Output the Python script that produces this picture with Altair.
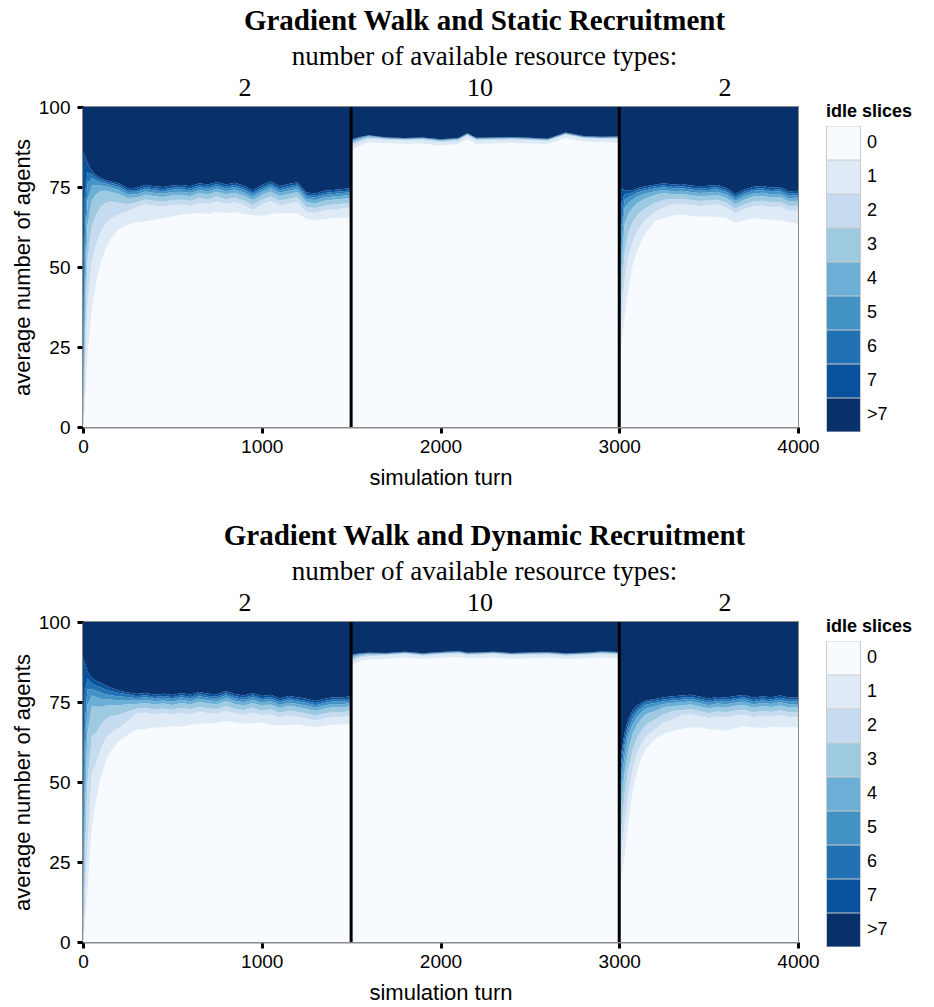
import altair as alt
import pandas as pd

# Simulation turns at which the agent distribution was sampled
TURNS = [
    0, 10, 25, 50, 75, 100, 125, 150, 200, 250, 300, 350, 400, 450, 500, 550,
    600, 650, 700, 750, 800, 850, 900, 950, 1000, 1050, 1100, 1150, 1200, 1250,
    1300, 1350, 1400, 1450, 1495,
    1505, 1550, 1600, 1700, 1800, 1900, 2000, 2100, 2150, 2200, 2300, 2400,
    2500, 2600, 2700, 2800, 2900, 2995,
    3005, 3015, 3030, 3050, 3075, 3100, 3125, 3150, 3200, 3250, 3300, 3350,
    3400, 3450, 3500, 3550, 3600, 3650, 3700, 3750, 3800, 3850, 3900, 3950, 4000,
]

IDLE_LABELS = ["0", "1", "2", "3", "4", "5", "6", "7", ">7"]
BLUES = ["#f7fbff", "#deebf7", "#c6dbef", "#9ecae1", "#6baed6",
         "#4292c6", "#2171b5", "#08519c", "#08306b"]
TOTAL_AGENTS = 100
SWITCH_TURNS = [1500, 3000]
RESOURCE_TYPES = ["2", "10", "2"]

# Static recruitment: average number of agents with at most k idle slices
static_le0 = [0, 6, 22, 37, 45.5, 51.5, 55.5, 58.5, 61.8, 63.2, 64.0, 64.3, 64.8, 65.3, 65.8, 66.4, 66.6, 66.9, 66.6, 67.2, 66.8, 67.1, 66.5, 66.2, 66.0, 66.5, 66.9, 66.7, 66.8, 65.0, 64.6, 65.0, 65.3, 65.4, 65.5,
              86.6, 88.0, 89.0, 88.7, 88.5, 88.6, 87.9, 88.4, 90.0, 88.5, 88.6, 88.8, 88.5, 88.4, 90.3, 89.2, 89.0, 88.9,
              22, 27, 34.5, 43, 50.5, 55, 58.3, 60.8, 64.3, 65.3, 66.0, 66.4, 66.0, 65.8, 65.8, 65.6, 65.3, 63.8, 64.5, 65.2, 65.0, 64.8, 64.6, 64.0, 63.6]
static_le1 = [2, 14, 38, 52, 57.5, 61, 63.5, 65, 66.3, 67.5, 68.7, 69.6, 69.1, 68.9, 69.4, 69.5, 69.1, 70.1, 69.7, 70.5, 69.7, 70.2, 69.3, 67.9, 69.5, 70.6, 69.2, 69.8, 70.4, 67.2, 66.9, 67.7, 68.0, 68.3, 68.5,
              87.8, 89.1, 90.0, 89.7, 89.5, 89.6, 88.9, 89.4, 91.0, 89.5, 89.6, 89.8, 89.5, 89.4, 91.3, 90.2, 90.0, 89.9,
              29, 35, 46, 53, 58, 61, 63.2, 65, 67.3, 68.5, 69.7, 69.8, 69.4, 69.1, 69.3, 69.5, 68.6, 66.7, 68.1, 69.0, 69.2, 68.7, 68.9, 67.5, 67.7]
static_le2 = [5, 25, 52, 63, 66.5, 69, 70, 70.5, 70, 69.6, 70.2, 71.1, 70.6, 70.4, 70.9, 71.0, 70.6, 71.6, 71.2, 72.0, 71.2, 71.7, 70.8, 69.4, 71.0, 72.1, 70.7, 71.3, 71.9, 68.7, 68.4, 69.2, 69.5, 69.8, 70.0,
              88.4, 89.5, 90.3, 90.0, 89.8, 89.9, 89.2, 89.7, 91.3, 89.8, 89.9, 90.1, 89.8, 89.7, 91.6, 90.5, 90.3, 90.2,
              36, 43, 54.5, 60.5, 64, 66, 67.5, 68.5, 70, 71.0, 71.2, 71.3, 70.9, 70.6, 70.8, 71.0, 70.1, 68.2, 69.6, 70.5, 70.7, 70.2, 70.4, 69.0, 69.2]
static_le3 = [10, 36, 63, 71, 72.8, 73.8, 73.8, 73.5, 72.8, 71.6, 71.7, 72.6, 72.1, 71.9, 72.4, 72.5, 72.1, 73.1, 72.7, 73.5, 72.7, 73.2, 72.3, 70.9, 72.5, 73.6, 72.2, 72.8, 73.4, 70.2, 69.9, 70.7, 71.0, 71.3, 71.5,
              89.0, 89.9, 90.7, 90.1, 89.9, 90.1, 89.5, 89.9, 91.4, 90.0, 90.1, 90.2, 90.0, 89.7, 91.6, 90.5, 90.3, 90.4,
              44, 51, 63.5, 66.5, 68.5, 70, 70.8, 71.5, 72.5, 73.1, 72.7, 72.8, 72.4, 72.1, 72.3, 72.5, 71.6, 69.7, 71.1, 72.0, 72.2, 71.7, 71.9, 70.5, 70.7]
static_le4 = [18, 48, 71, 75.5, 75.5, 75.5, 75.2, 74.9, 74.1, 72.6, 72.7, 73.6, 73.1, 72.9, 73.4, 73.5, 73.1, 74.1, 73.7, 74.5, 73.7, 74.2, 73.3, 71.9, 73.5, 74.6, 73.2, 73.8, 74.4, 71.2, 70.9, 71.7, 72.0, 72.3, 72.5,
              89.4, 90.2, 90.9, 90.2, 90.0, 90.2, 89.6, 90.0, 91.5, 90.1, 90.2, 90.3, 90.1, 89.8, 91.7, 90.6, 90.4, 90.5,
              52, 58, 68.5, 70, 71, 72, 72.6, 73, 73.7, 74.1, 73.7, 73.8, 73.4, 73.1, 73.3, 73.5, 72.6, 70.7, 72.1, 73.0, 73.2, 72.7, 72.9, 71.5, 71.7]
static_le5 = [30, 60, 76, 77.8, 77, 76.5, 76.1, 75.7, 74.9, 73.4, 73.5, 74.4, 73.9, 73.7, 74.2, 74.3, 73.9, 74.9, 74.5, 75.3, 74.5, 75.0, 74.1, 72.7, 74.3, 75.4, 74.0, 74.6, 75.2, 72.0, 71.7, 72.5, 72.8, 73.1, 73.3,
              89.6, 90.4, 91.0, 90.3, 90.1, 90.3, 89.7, 90.1, 91.6, 90.2, 90.3, 90.4, 90.2, 89.9, 91.8, 90.7, 90.5, 90.6,
              60, 64, 71, 71.8, 72.4, 73.2, 73.7, 74, 74.6, 74.9, 74.5, 74.6, 74.2, 73.9, 74.1, 74.3, 73.4, 71.5, 72.9, 73.8, 74.0, 73.5, 73.7, 72.3, 72.5]
static_le6 = [50, 72, 79.5, 79, 77.9, 77.2, 76.7, 76.3, 75.6, 74.0, 74.1, 75.0, 74.5, 74.3, 74.8, 74.9, 74.5, 75.5, 75.1, 75.9, 75.1, 75.6, 74.7, 73.3, 74.9, 76.0, 74.6, 75.2, 75.8, 72.6, 72.3, 73.1, 73.4, 73.7, 73.9,
              89.8, 90.5, 91.1, 90.4, 90.2, 90.4, 89.8, 90.2, 91.7, 90.3, 90.4, 90.5, 90.3, 90.0, 91.9, 90.8, 90.6, 90.7,
              68, 70, 72.8, 72.9, 73.3, 74, 74.4, 74.6, 75.2, 75.5, 75.1, 75.2, 74.8, 74.5, 74.7, 74.9, 74.0, 72.1, 73.5, 74.4, 74.6, 74.1, 74.3, 72.9, 73.1]
static_le7 = [86, 85, 82.5, 80, 78.6, 77.8, 77.2, 76.8, 76.2, 74.6, 74.8, 75.7, 75.2, 75.0, 75.5, 75.6, 75.2, 76.2, 75.8, 76.6, 75.8, 76.3, 75.4, 74.0, 75.6, 76.7, 75.3, 75.9, 76.5, 73.3, 73.0, 73.8, 74.1, 74.4, 74.6,
              89.9, 90.6, 91.2, 90.5, 90.3, 90.5, 89.9, 90.3, 91.8, 90.4, 90.5, 90.6, 90.4, 90.1, 92.0, 90.9, 90.7, 90.8,
              74.6, 74.4, 74.1, 73.8, 74.0, 74.6, 75.0, 75.2, 75.7, 76.2, 75.8, 75.9, 75.5, 75.2, 75.4, 75.6, 74.7, 72.8, 74.2, 75.1, 75.3, 74.8, 75.0, 73.6, 73.8]

# Dynamic recruitment: average number of agents with at most k idle slices
dynamic_le0 = [0, 5, 16, 36, 45, 51.5, 56, 59.2, 62.8, 64.8, 66.3, 66.6, 67.0, 67.1, 67.5, 67.2, 67.8, 68.1, 68.3, 68.5, 69.1, 68.6, 68.2, 68.4, 68.6, 68.0, 67.6, 67.8, 68.0, 67.4, 67.1, 67.6, 67.9, 68.0, 68.1,
               86.5, 87.8, 88.3, 88.5, 88.9, 88.4, 88.8, 89.1, 88.6, 88.7, 88.9, 88.5, 88.6, 88.8, 88.4, 88.6, 88.9, 88.7,
               17, 21, 27, 37, 47, 53.5, 57.5, 60.5, 63.4, 65.0, 65.9, 66.6, 67.0, 67.0, 66.6, 66.3, 66.0, 66.8, 67.4, 67.0, 66.9, 67.2, 67.3, 67.0, 67.1]
dynamic_le1 = [2, 12, 30, 53, 56, 60.5, 63.5, 65, 67, 69.0, 71.4, 71.7, 71.2, 71.5, 71.1, 71.7, 71.2, 72.0, 71.5, 71.3, 72.3, 71.4, 70.9, 71.7, 70.8, 71.2, 70.1, 70.8, 70.4, 69.9, 69.2, 69.9, 70.4, 70.3, 70.7,
               87.7, 88.8, 89.3, 89.5, 89.9, 89.4, 89.8, 90.1, 89.6, 89.7, 89.9, 89.5, 89.6, 89.8, 89.4, 89.6, 89.9, 89.7,
               24, 29, 37, 46, 54, 59, 62, 64.3, 66.5, 68.6, 69.6, 70.9, 71.2, 70.6, 70.0, 70.5, 70.3, 70.8, 71.1, 70.2, 70.7, 70.4, 70.9, 70.3, 70.4]
dynamic_le2 = [5, 25, 50, 64.5, 65.5, 68, 69.5, 70.5, 71, 72.0, 72.9, 73.2, 72.7, 73.0, 72.6, 73.2, 72.7, 73.5, 73.0, 72.8, 73.8, 72.9, 72.4, 73.2, 72.3, 72.7, 71.6, 72.3, 71.9, 71.4, 70.7, 71.4, 71.9, 71.8, 72.2,
               88.3, 89.2, 89.6, 89.8, 90.2, 89.7, 90.1, 90.4, 89.9, 90.0, 90.2, 89.8, 89.9, 90.1, 89.7, 89.9, 90.2, 90.0,
               31, 37, 46, 54, 60, 64, 66.2, 68, 69.5, 71.2, 72.2, 72.4, 72.7, 72.1, 71.5, 72.0, 71.8, 72.3, 72.6, 71.7, 72.2, 71.9, 72.4, 71.8, 71.9]
dynamic_le3 = [10, 40, 65, 73.8, 73.5, 73.5, 73.8, 74, 74, 74.3, 74.4, 74.7, 74.2, 74.5, 74.1, 74.7, 74.2, 75.0, 74.5, 74.3, 75.3, 74.4, 73.9, 74.7, 73.8, 74.2, 73.1, 73.8, 73.4, 72.9, 72.2, 72.9, 73.4, 73.3, 73.7,
               88.9, 89.6, 90.0, 89.9, 90.3, 89.8, 90.2, 90.5, 90.0, 90.1, 90.3, 89.9, 90.1, 90.2, 89.8, 90.0, 90.4, 90.2,
               38, 45, 53, 60, 65, 68, 69.8, 71.2, 72.2, 73.4, 73.7, 73.9, 74.2, 73.6, 73.0, 73.5, 73.3, 73.8, 74.1, 73.2, 73.7, 73.4, 73.9, 73.3, 73.4]
dynamic_le4 = [20, 55, 74, 77, 76.5, 76, 75.8, 75.8, 75.5, 75.6, 75.4, 75.7, 75.2, 75.5, 75.1, 75.7, 75.2, 76.0, 75.5, 75.3, 76.3, 75.4, 74.9, 75.7, 74.8, 75.2, 74.1, 74.8, 74.4, 73.9, 73.2, 73.9, 74.4, 74.3, 74.7,
               89.3, 89.8, 90.1, 90.0, 90.4, 89.9, 90.3, 90.6, 90.1, 90.2, 90.4, 90.0, 90.2, 90.3, 89.9, 90.1, 90.5, 90.3,
               44, 51, 58, 64.5, 68, 70.5, 71.9, 73, 73.7, 74.4, 74.7, 74.9, 75.2, 74.6, 74.0, 74.5, 74.3, 74.8, 75.1, 74.2, 74.7, 74.4, 74.9, 74.3, 74.4]
dynamic_le5 = [35, 68, 79, 79, 78.5, 78, 77.4, 77.2, 76.7, 76.6, 76.2, 76.5, 76.0, 76.3, 75.9, 76.5, 76.0, 76.8, 76.3, 76.1, 77.1, 76.2, 75.7, 76.5, 75.6, 76.0, 74.9, 75.6, 75.2, 74.7, 74.0, 74.7, 75.2, 75.1, 75.5,
               89.5, 90.0, 90.2, 90.1, 90.5, 90.0, 90.4, 90.7, 90.2, 90.3, 90.5, 90.1, 90.3, 90.4, 90.0, 90.2, 90.6, 90.4,
               49, 55, 61.5, 66.5, 69.8, 72, 73.2, 74.2, 74.7, 75.2, 75.5, 75.7, 76.0, 75.4, 74.8, 75.3, 75.1, 75.6, 75.9, 75.0, 75.5, 75.2, 75.7, 75.1, 75.2]
dynamic_le6 = [55, 78, 82.3, 80.8, 80.1, 79.6, 78.9, 78.5, 77.8, 77.4, 76.8, 77.1, 76.6, 76.9, 76.5, 77.1, 76.6, 77.4, 76.9, 76.7, 77.7, 76.8, 76.3, 77.1, 76.2, 76.6, 75.5, 76.2, 75.8, 75.3, 74.6, 75.3, 75.8, 75.7, 76.1,
               89.7, 90.1, 90.3, 90.2, 90.6, 90.1, 90.5, 90.8, 90.3, 90.4, 90.6, 90.2, 90.4, 90.5, 90.1, 90.3, 90.7, 90.5,
               53, 58, 63.5, 68, 71.2, 73, 74.1, 75, 75.4, 75.8, 76.1, 76.3, 76.6, 76.0, 75.4, 75.9, 75.7, 76.2, 76.5, 75.6, 76.1, 75.8, 76.3, 75.7, 75.8]
dynamic_le7 = [89, 87.4, 84.5, 82.5, 81.6, 81, 80.2, 79.6, 78.6, 78.0, 77.5, 77.8, 77.3, 77.6, 77.2, 77.8, 77.3, 78.1, 77.6, 77.4, 78.4, 77.5, 77.0, 77.8, 76.9, 77.3, 76.2, 76.9, 76.5, 76.0, 75.3, 76.0, 76.5, 76.4, 76.8,
               89.8, 90.2, 90.4, 90.3, 90.7, 90.2, 90.6, 90.9, 90.4, 90.5, 90.7, 90.3, 90.5, 90.6, 90.2, 90.4, 90.8, 90.6,
               57, 60.5, 65.5, 69.5, 72.5, 74, 74.8, 75.5, 75.9, 76.5, 76.8, 77.0, 77.3, 76.7, 76.1, 76.6, 76.4, 76.9, 77.2, 76.3, 76.8, 76.5, 77.0, 76.4, 76.5]

WIDTH = 715
HEIGHT = 320
LABEL_X = [162, 397, 642]
SERIF = "Liberation Serif"
SANS = "Liberation Sans"


def band_table(cumulative):
    """One row per (turn, idle class) with the lower and upper edge of its band."""
    edges = [[0] * len(TURNS)] + cumulative + [[TOTAL_AGENTS] * len(TURNS)]
    rows = []
    for k, label in enumerate(IDLE_LABELS):
        for t, lo, hi in zip(TURNS, edges[k], edges[k + 1]):
            rows.append({"turn": t, "lo": lo, "hi": hi, "idle": label})
    return pd.DataFrame(rows)


def panel(cumulative, title):
    bands = alt.Chart(band_table(cumulative)).mark_area(
        interpolate="linear", opacity=1
    ).encode(
        x=alt.X("turn:Q", scale=alt.Scale(domain=[0, 4000], nice=False),
                axis=alt.Axis(values=[0, 1000, 2000, 3000, 4000], format="d",
                              title="simulation turn", labelFlush=False,
                              labelPadding=4, titlePadding=11)),
        y=alt.Y("lo:Q", scale=alt.Scale(domain=[0, TOTAL_AGENTS], nice=False),
                axis=alt.Axis(values=[0, 25, 50, 75, 100],
                              title="average number of agents",
                              labelPadding=7, titlePadding=4)),
        y2="hi:Q",
        color=alt.Color("idle:N",
                        scale=alt.Scale(domain=IDLE_LABELS, range=BLUES),
                        sort=IDLE_LABELS,
                        legend=alt.Legend(title="idle slices", orient="none",
                                          legendX=743, legendY=-4)),
    )
    switches = alt.Chart(pd.DataFrame({"turn": SWITCH_TURNS})).mark_rule(
        color="black", strokeWidth=3
    ).encode(x="turn:Q", y=alt.value(0), y2=alt.value(HEIGHT))
    labels = [
        alt.Chart(pd.DataFrame({"n": [n]})).mark_text(
            font=SERIF, fontSize=26, baseline="middle", align="center", color="black"
        ).encode(x=alt.value(px), y=alt.value(-19), text="n:N")
        for n, px in zip(RESOURCE_TYPES, LABEL_X)
    ]
    return alt.layer(bands, switches, *labels).properties(
        width=WIDTH, height=HEIGHT,
        title=alt.TitleParams(
            text=title,
            subtitle="number of available resource types:",
            font=SERIF, fontSize=29, fontWeight="bold", color="black",
            subtitleFont=SERIF, subtitleFontSize=27, subtitleColor="black",
            subtitlePadding=8, anchor="middle", frame="group", dx=44, offset=5,
        ),
    )


chart = alt.vconcat(
    panel([static_le0, static_le1, static_le2, static_le3,
           static_le4, static_le5, static_le6, static_le7],
          "Gradient Walk and Static Recruitment"),
    panel([dynamic_le0, dynamic_le1, dynamic_le2, dynamic_le3,
           dynamic_le4, dynamic_le5, dynamic_le6, dynamic_le7],
          "Gradient Walk and Dynamic Recruitment"),
    spacing=32,
).resolve_scale(color="independent").properties(
    padding={"left": 10, "top": 6, "right": 5, "bottom": 2}
).configure_view(
    stroke="#8a8a8a", strokeWidth=2
).configure_axis(
    labelFont=SANS, labelFontSize=19, labelColor="black",
    titleFont=SANS, titleFontSize=22, titleFontWeight="normal", titleColor="black",
    tickColor="black", tickWidth=3, tickSize=6,
    domainColor="#8a8a8a", domainWidth=2, grid=False,
).configure_legend(
    titleFont=SANS, titleFontSize=18, titleFontWeight="bold", titleColor="black",
    labelFont=SANS, labelFontSize=18, labelColor="black",
    symbolType="square", symbolSize=1156, symbolStrokeColor="#cccccc",
    symbolStrokeWidth=1, symbolOpacity=1, rowPadding=0, clipHeight=34,
    labelOffset=6, titlePadding=5,
)

chart.save("out.html", embed_options={"renderer": "svg", "actions": False})
